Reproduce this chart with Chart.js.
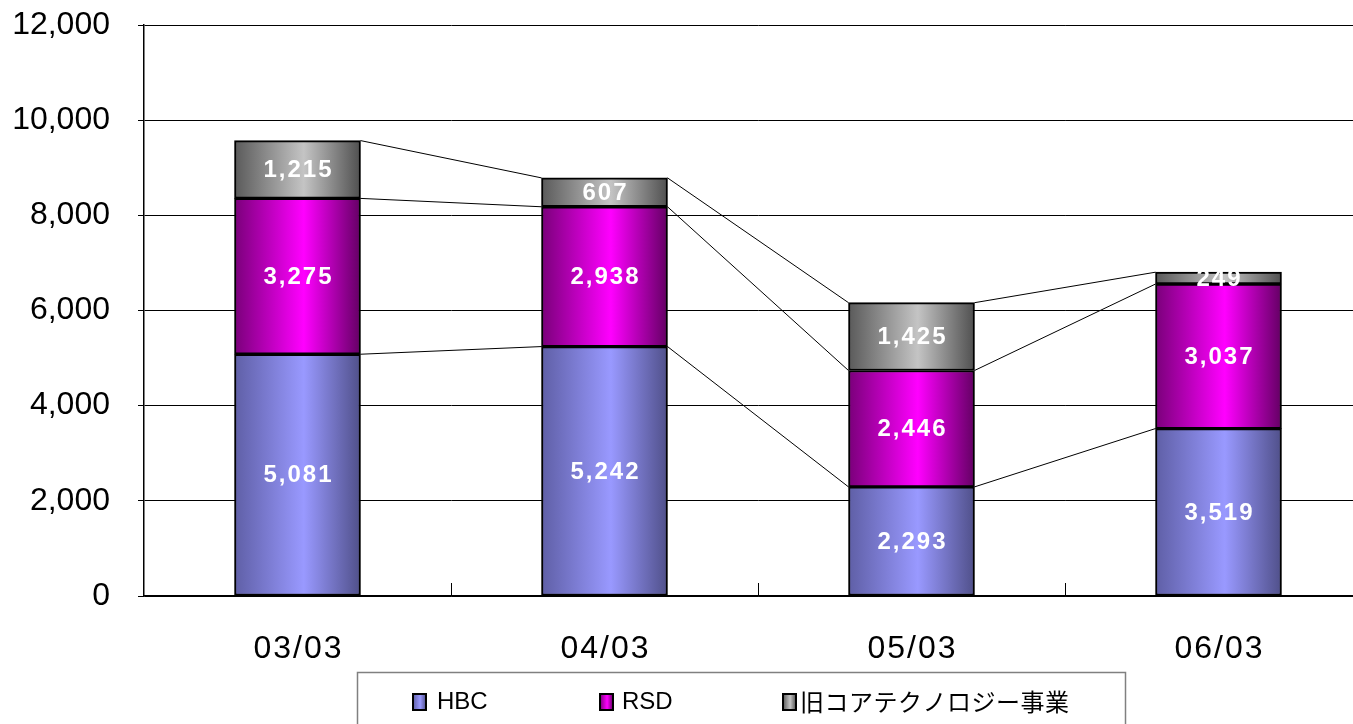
<!DOCTYPE html>
<html>
<head>
<meta charset="utf-8">
<script src="https://cdn.jsdelivr.net/npm/chart.js@4/dist/chart.umd.min.js"></script>
<style>
  html, body { margin: 0; padding: 0; background: #fff; overflow: hidden; }
  #wrap { width: 1372px; height: 724px; }
</style>
</head>
<body>
<div id="wrap"><canvas id="chart" width="1372" height="724"></canvas></div>
<script>
var categories = ["03/03", "04/03", "05/03", "06/03"];
var hbc = [5081, 5242, 2293, 3519];
var rsd = [3275, 2938, 2446, 3037];
var oldCore = [1215, 607, 1425, 249];
var seriesNames = ["HBC", "RSD", "旧コアテクノロジー事業"];
var yTicks = [0, 2000, 4000, 6000, 8000, 10000, 12000];

var BAR_W = 126;

// dark edge / light middle / dark edge, like the old excel gradient
var shades = [
  ["#5f5fa6", "#9999ff", "#50508a"],
  ["#7a007a", "#ff00ff", "#640064"],
  ["#5a5a5a", "#c4c4c4", "#505050"]
];

function makeGradient(c, x0, x1, s) {
  var g = c.createLinearGradient(x0, 0, x1, 0);
  g.addColorStop(0, s[0]);
  g.addColorStop(0.55, s[1]);
  g.addColorStop(1, s[2]);
  return g;
}

function barFill(idx) {
  return function(ctx) {
    var chart = ctx.chart;
    var xs = chart.scales.x;
    if (!xs || !chart.chartArea || ctx.dataIndex === undefined) return shades[idx][1];
    var cx = xs.getPixelForValue(ctx.dataIndex);
    return makeGradient(chart.ctx, cx - BAR_W / 2, cx + BAR_W / 2, shades[idx]);
  };
}

var connectors = {
  id: 'connectors',
  beforeDatasetsDraw: function(chart) {
    var c = chart.ctx;
    c.save();
    c.strokeStyle = '#000';
    c.lineWidth = 1;
    chart.data.datasets.forEach(function(ds, d) {
      var bars = chart.getDatasetMeta(d).data;
      for (var i = 0; i < bars.length - 1; i++) {
        var a = bars[i], b = bars[i + 1];
        c.beginPath();
        c.moveTo(a.x + a.width / 2, a.y);
        c.lineTo(b.x - b.width / 2, b.y);
        c.stroke();
      }
    });
    c.restore();
  }
};

var valueLabels = {
  id: 'valueLabels',
  afterDatasetsDraw: function(chart) {
    var c = chart.ctx;
    c.save();
    c.fillStyle = '#fff';
    c.font = 'bold 24px "Liberation Sans", Arial, sans-serif';
    c.letterSpacing = '2px';
    c.textAlign = 'center';
    c.textBaseline = 'middle';
    chart.data.datasets.forEach(function(ds, d) {
      chart.getDatasetMeta(d).data.forEach(function(el, i) {
        var txt = ds.data[i].toLocaleString('en-US');
        c.fillText(txt, el.x + 1, (el.y + el.base) / 2 + 1);
      });
    });
    c.restore();
  }
};

var xLabels = {
  id: 'xLabels',
  afterDraw: function(chart) {
    var c = chart.ctx;
    var xs = chart.scales.x;
    var area = chart.chartArea;
    c.save();
    // small ticks between categories, pointing up into the plot
    c.strokeStyle = '#000';
    c.lineWidth = 1;
    for (var i = 1; i < categories.length; i++) {
      var tx = Math.round((xs.getPixelForValue(i - 1) + xs.getPixelForValue(i)) / 2) + 0.5;
      c.beginPath();
      c.moveTo(tx, area.bottom);
      c.lineTo(tx, area.bottom - 13);
      c.stroke();
    }
    c.fillStyle = '#000';
    c.font = '32px "Liberation Sans", Arial, sans-serif';
    c.letterSpacing = '2px';
    c.textAlign = 'center';
    c.textBaseline = 'middle';
    categories.forEach(function(lab, i) {
      c.fillText(lab, xs.getPixelForValue(i) + 1, 649);
    });
    c.restore();
  }
};

var boxLegend = {
  id: 'boxLegend',
  afterDraw: function(chart) {
    var c = chart.ctx;
    c.save();
    c.strokeStyle = '#808080';
    c.lineWidth = 1.5;
    c.strokeRect(357.5, 672.5, 768, 70);
    var sqX = [413, 600, 783];
    var txX = [437, 622, 800];
    c.textBaseline = 'middle';
    c.textAlign = 'left';
    seriesNames.forEach(function(name, i) {
      c.fillStyle = makeGradient(c, sqX[i], sqX[i] + 13, shades[i]);
      c.fillRect(sqX[i], 694, 13, 16);
      c.strokeStyle = '#000';
      c.lineWidth = 2;
      c.strokeRect(sqX[i], 694, 13, 16);
      c.fillStyle = '#000';
      if (i === 2) {
        c.font = '24px "Noto Sans CJK JP", sans-serif';
        c.letterSpacing = '0.5px';
      } else {
        c.font = '24px "Liberation Sans", Arial, sans-serif';
        c.letterSpacing = '0px';
      }
      c.fillText(name, txX[i], 702);
    });
    c.restore();
  }
};

var ctx = document.getElementById('chart').getContext('2d');
new Chart(ctx, {
  type: 'bar',
  data: {
    labels: categories,
    datasets: [
      { label: seriesNames[0], data: hbc, backgroundColor: barFill(0) },
      { label: seriesNames[1], data: rsd, backgroundColor: barFill(1) },
      { label: seriesNames[2], data: oldCore, backgroundColor: barFill(2) }
    ]
  },
  options: {
    responsive: false,
    animation: false,
    layout: { padding: { top: 25, left: 0, right: 0, bottom: 0 } },
    datasets: {
      bar: {
        barThickness: BAR_W,
        borderColor: '#000',
        borderWidth: 2,
        borderSkipped: false
      }
    },
    plugins: {
      legend: { display: false },
      tooltip: { enabled: false }
    },
    scales: {
      x: {
        stacked: true,
        grid: { display: false },
        border: { display: true, color: '#000', width: 1.5 },
        ticks: { display: false },
        afterFit: function(s) { s.height = 128; s.paddingLeft = 0; s.paddingRight = 0; }
      },
      y: {
        stacked: true,
        min: 0,
        max: 12000,
        afterBuildTicks: function(s) { s.ticks = yTicks.map(function(v) { return { value: v }; }); },
        grid: { color: '#000', lineWidth: 1, tickLength: 6 },
        border: { display: true, color: '#000', width: 1.5 },
        ticks: {
          color: '#000',
          padding: 28,
          font: { family: '"Liberation Sans", Arial, sans-serif', size: 32 },
          callback: function(v) { return v.toLocaleString('en-US'); }
        },
        afterFit: function(s) { s.width = 144; s.paddingTop = 0; s.paddingBottom = 0; }
      }
    }
  },
  plugins: [connectors, valueLabels, xLabels, boxLegend]
});
</script>
</body>
</html>
